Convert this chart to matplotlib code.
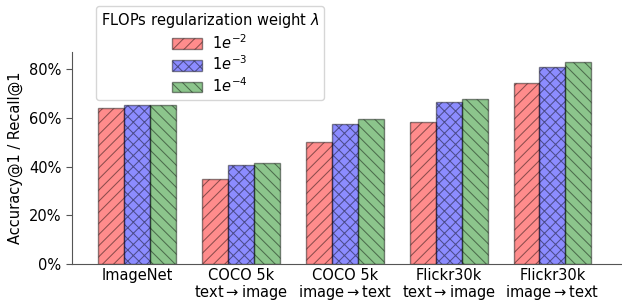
import numpy as np
import matplotlib.pyplot as plt
from matplotlib.ticker import PercentFormatter

# Data
categories = ['ImageNet', 'COCO 5k\ntext$\\rightarrow$image', 'COCO 5k\nimage$\\rightarrow$text',
              'Flickr30k\ntext$\\rightarrow$image', 'Flickr30k\nimage$\\rightarrow$text']
labels = ['$1e^{-2}$', '$1e^{-3}$', '$1e^{-4}$']
acc_1e2 = [64.3, 34.9, 50.1, 58.4, 74.3]
acc_1e3 = [65.4, 40.7, 57.4, 66.5, 80.8]
acc_1e4 = [65.4, 41.7, 59.6, 67.7, 82.9]

series = [acc_1e2, acc_1e3, acc_1e4]
colors = ['red', 'blue', 'green']
hatches = ['///', 'xxx', '\\\\\\']

plt.rcParams['font.size'] = 10.5
plt.rcParams['hatch.linewidth'] = 0.75

fig = plt.figure(figsize=(6.22, 3.03), dpi=100)
ax = fig.add_axes([0.1157, 0.128, 0.8843, 0.700])

x = np.arange(len(categories))
width = 0.25
for i, (vals, c, h, lab) in enumerate(zip(series, colors, hatches, labels)):
    ax.bar(x + (i - 1) * width, vals, width, color=c, alpha=0.45, edgecolor='black',
           linewidth=1, hatch=h, label=lab)

ax.set_xticks(x)
ax.set_xticklabels(categories, linespacing=0.95)
ax.yaxis.set_major_formatter(PercentFormatter(decimals=0))
ax.set_yticks([0, 20, 40, 60, 80])
ax.set_ylabel('Accuracy@1 / Recall@1')
ax.set_xlim(-0.63, 4.67)

for s in ['top', 'right']:
    ax.spines[s].set_visible(False)
for s in ['left', 'bottom']:
    ax.spines[s].set_color('#555555')
ax.tick_params(colors='#555555', labelcolor='black', length=4)
ax.tick_params(axis='x', length=0, pad=3)

leg = ax.legend(title='FLOPs regularization weight $\\lambda$', loc='upper left',
                bbox_to_anchor=(0.043, 1.217), borderaxespad=0, handlelength=2.05,
                handleheight=0.75, borderpad=0.35, labelspacing=0.2, handletextpad=0.7)
leg.get_title().set_fontsize(10.5)

fig.savefig('out.png', dpi=100)
